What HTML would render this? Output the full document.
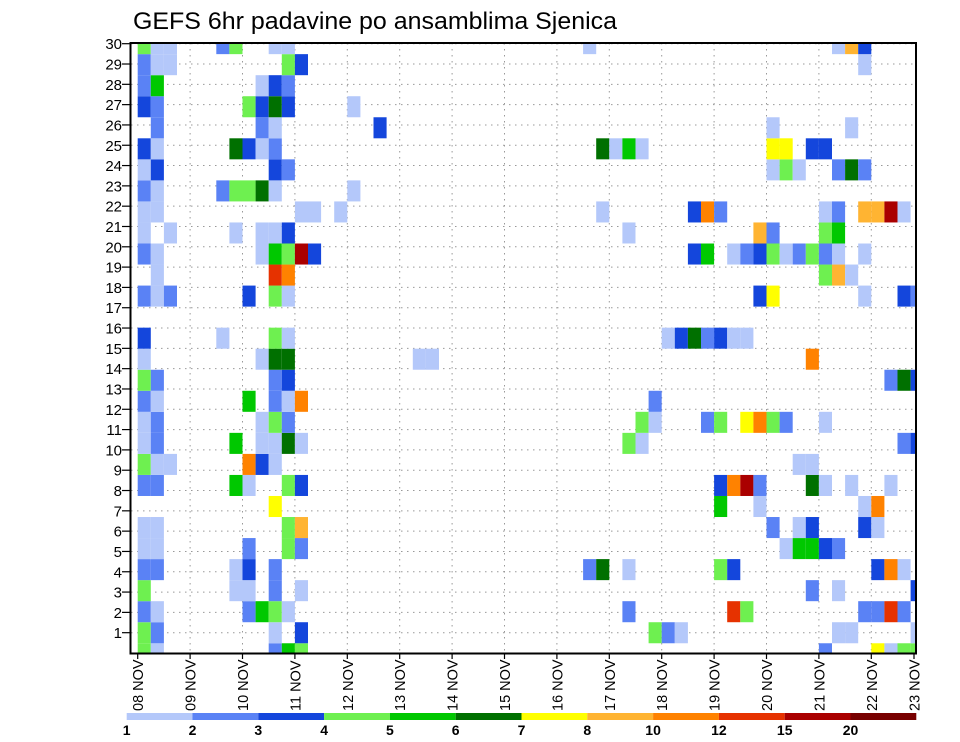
<!DOCTYPE html>
<html><head><meta charset="utf-8"><title>GEFS 6hr padavine po ansamblima Sjenica</title>
<style>html,body{margin:0;padding:0;background:#fff}svg{display:block}text{font-family:"Liberation Sans",sans-serif;fill:#000}</style>
</head><body>
<svg id="chart" width="960" height="742" viewBox="0 0 960 742" xmlns="http://www.w3.org/2000/svg">
<rect x="0" y="0" width="960" height="742" fill="#fff"/>
<text x="133" y="29" font-size="24" textLength="484" lengthAdjust="spacingAndGlyphs">GEFS 6hr padavine po ansamblima Sjenica</text>
<defs><clipPath id="plotclip"><rect x="131" y="43" width="785" height="610"/></clipPath></defs>
<g id="grid"></g>
<g id="cells" clip-path="url(#plotclip)"></g>
<rect x="130.5" y="43" width="785.5" height="610.5" fill="none" stroke="#000" stroke-width="2"/>
<g id="axes"></g>
<g id="colorbar"></g>
</svg>
<script>
const dayLabels = ["08","09","10","11","12","13","14","15","16","17","18","19","20","21","22","23"];
const memberLabels = [1,2,3,4,5,6,7,8,9,10,11,12,13,14,15,16,17,18,19,20,21,22,23,24,25,26,27,28,29,30];
const colorbarLabels = ["1","2","3","4","5","6","7","8","10","12","15","20"];
const levelColors = ["","#b4c8fa","#5a82f5","#1446dc","#6ef050","#00c800","#007000","#ffff00","#ffb432","#ff8200","#e63200","#aa0000","#780000"];
// precipitation class per member (index 0 = bottom), "timeStep:class"
const memberCells = [
"0:4,1:1,10:2,11:5,12:4,52:2,56:7,57:1,58:4,59:4",
"0:4,1:2,10:1,12:3,39:4,40:2,41:1,53:1,54:1,59:1",
"0:2,1:1,8:2,9:5,10:4,11:1,37:2,45:a,46:4,55:2,56:2,57:a,58:2",
"0:4,7:1,8:1,10:2,12:1,51:2,53:1,59:3",
"0:2,1:2,7:1,8:3,10:2,34:2,35:6,37:1,44:4,45:3,56:3,57:9,58:1",
"0:1,1:1,8:2,11:4,12:2,49:1,50:5,51:5,52:3,53:2",
"0:1,1:1,11:4,12:8,48:2,50:1,51:3,55:3,56:1",
"10:7,44:5,47:1,55:1,56:9",
"0:2,1:2,7:5,8:1,11:4,12:3,44:3,45:9,46:b,47:2,51:6,52:1,54:1,57:1",
"0:4,1:1,2:1,8:9,9:3,10:1,50:1,51:1",
"0:1,1:2,7:5,9:1,10:1,11:6,12:1,37:4,38:1,58:2,59:3",
"0:1,1:2,9:1,10:4,11:2,38:4,39:1,43:2,44:4,46:7,47:9,48:4,49:2,52:1",
"0:2,1:1,8:5,10:2,11:1,12:9,39:2",
"0:4,1:2,10:2,11:3,57:2,58:6,59:3",
"0:1,9:1,10:6,11:6,21:1,22:1,51:9",
"0:3,6:1,10:4,11:1,40:1,41:3,42:6,43:2,44:3,45:1,46:1",
"",
"0:2,1:1,2:2,8:3,10:4,11:1,47:3,48:7,55:1,58:3,59:2",
"1:1,10:a,11:9,52:4,53:8,54:1",
"0:2,1:1,9:1,10:5,11:4,12:b,13:3,42:3,43:5,45:1,46:2,47:3,48:4,49:1,50:2,51:4,52:2,53:1,55:1",
"0:1,2:1,7:1,9:1,10:1,11:3,37:1,47:8,48:2,52:4,53:5",
"0:1,1:1,12:1,13:1,15:1,35:1,42:3,43:9,44:2,52:1,53:2,55:8,56:8,57:b,58:1",
"0:2,1:1,6:2,7:4,8:4,9:6,10:1,16:1",
"0:1,1:3,10:3,11:2,48:1,49:4,50:1,53:2,54:6,55:2",
"0:3,1:1,7:6,8:3,9:1,10:2,35:6,36:1,37:5,38:1,48:7,49:7,51:3,52:3",
"1:2,9:2,10:1,18:3,48:1,54:1",
"0:3,1:2,8:4,9:3,10:6,11:3,16:1",
"0:2,1:5,9:1,10:3,11:2",
"0:2,1:1,2:1,11:4,12:3,55:1",
"0:4,1:1,2:1,6:2,7:4,10:1,11:1,34:1,53:1,54:8,55:3"
];

const NS = "http://www.w3.org/2000/svg";
function xCol(c){ return 137.7 + 13.1*c; }
function xDay(d){ return Math.min(137.7 + 52.4*d, 914); }
function yMemberTop(i){ return 664.3 - 21.04*(i+1); }
function yLabel(k){ return 653 - 20.31*k; }
function mk(tag, attrs, parent){ const e=document.createElementNS(NS,tag); for(const k in attrs) e.setAttribute(k,attrs[k]); parent.appendChild(e); return e; }

const grid = document.getElementById('grid');
memberLabels.forEach(k=>{
  const l = mk('line',{x1:131,x2:916,y1:yLabel(k),y2:yLabel(k),stroke:'#999','stroke-width':1,'stroke-dasharray':'1.5,4.5'},grid);
  
  
});
dayLabels.forEach((d,j)=>{
  if(j===0||j===dayLabels.length-1) return;
  const l = mk('line',{x1:xDay(j),x2:xDay(j),y1:43,y2:653,stroke:'#999','stroke-width':1,'stroke-dasharray':'1.5,4.5'},grid);
  
  
});

const cells = document.getElementById('cells');
memberCells.forEach((s,i)=>{
  if(!s) return;
  s.split(',').forEach(p=>{
    const parts = p.split(':');
    const c = parseInt(parts[0],10);
    const lv = parseInt(parts[1],16);
    const r = mk('rect',{x:xCol(c),y:yMemberTop(i),width:13.1,height:21.04,fill:levelColors[lv]},cells);
    
    
  });
});

const axes = document.getElementById('axes');
memberLabels.forEach(k=>{
  const t = mk('line',{x1:122,x2:130,y1:yLabel(k),y2:yLabel(k),stroke:'#000','stroke-width':1.2},axes);
  
  
  const tx = mk('text',{x:122,y:yLabel(k)+5.5,'font-size':15,'text-anchor':'end'},axes);
  tx.textContent = String(k);
  
  
});
dayLabels.forEach((d,j)=>{
  const x = xDay(j);
  const t = mk('line',{x1:x,x2:x,y1:653,y2:659,stroke:'#000','stroke-width':1.2},axes);
  
  
  const tx = mk('text',{x:0,y:0,'font-size':14.5,transform:`translate(${x+5.5},711) rotate(-90)`},axes);
  tx.textContent = d + ' NOV';
  
  
});

const cb = document.getElementById('colorbar');
colorbarLabels.forEach((lab,j)=>{
  const x = 126.7 + 65.8*j;
  const r = mk('rect',{x:x,y:713,width:65.8,height:7,fill:levelColors[j+1]},cb);
  
  
  const tx = mk('text',{x:x,y:735,'font-size':14,'font-weight':'bold','text-anchor':'middle'},cb);
  tx.textContent = lab;
  
  
});
</script>
</body></html>
